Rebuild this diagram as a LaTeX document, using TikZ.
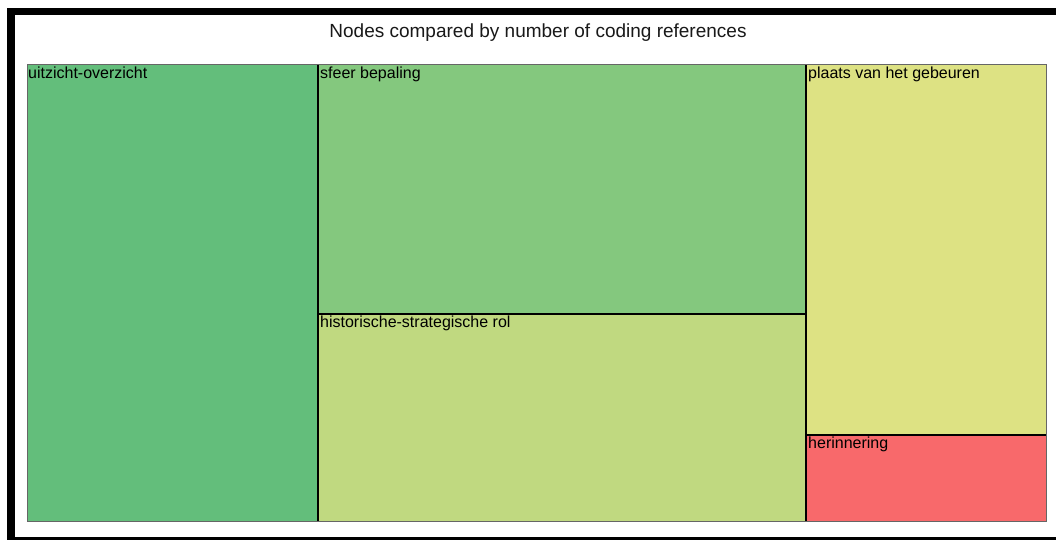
\documentclass[tikz,border=0pt]{standalone}
\usepackage{fontspec}
\setmainfont{Liberation Sans}
\begin{document}
\begin{tikzpicture}[x=1pt,y=-1pt,
  cell/.style={draw=black, line width=1.6pt},
  lbl/.style={anchor=north west, inner sep=0pt, font=\fontsize{16}{18}\selectfont, text=black},
  ttl/.style={font=\fontsize{19}{21}\selectfont, text=black!90}]
\definecolor{cA}{HTML}{63BE7B}
\definecolor{cB}{HTML}{84C87E}
\definecolor{cC}{HTML}{C0D980}
\definecolor{cD}{HTML}{DDE283}
\definecolor{cE}{HTML}{F8696B}
\useasboundingbox (0,0) rectangle (1056,540);
\fill[white] (0,0) rectangle (1056,540);
\fill[black] (7,8) rectangle (1056,540);
\fill[white] (15,15) rectangle (1056,537);
\node[ttl] (title) at (538,33) {Nodes compared by number of coding references};
% cells
\fill[cA] (27,65) rectangle (318,521);
\fill[cB] (318,65) rectangle (806,314);
\fill[cC] (318,314) rectangle (806,521);
\fill[cD] (806,65) rectangle (1046,435);
\fill[cE] (806,435) rectangle (1046,521);
\draw[cell] (318,65) -- (318,521);
\draw[cell] (806,65) -- (806,521);
\draw[cell] (318,314) -- (806,314);
\draw[cell] (806,435) -- (1046,435);
\draw[black!60, line width=1pt] (27,65) rectangle (1046,521);
\node[lbl] (a) at (28,67) {uitzicht-overzicht};
\node[lbl] (b) at (320,67) {sfeer bepaling};
\node[lbl] (c) at (320,316) {historische-strategische rol};
\node[lbl] (d) at (808,67) {plaats van het gebeuren};
\node[lbl] (e) at (808,437) {herinnering};
\end{tikzpicture}
\end{document}
